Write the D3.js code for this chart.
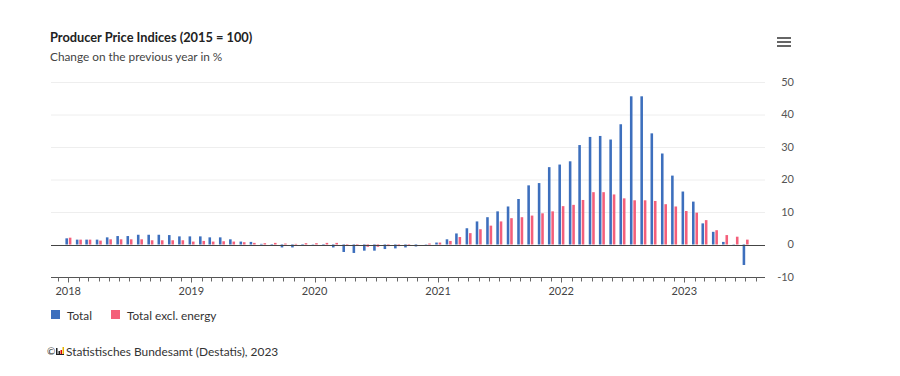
<!DOCTYPE html>
<html>
<head>
<meta charset="utf-8">
<script src="https://cdn.jsdelivr.net/npm/d3@7"></script>
<style>
  body { margin: 0; background: #fff; }
  #chart { width: 900px; height: 376px; }
  text { font-family: "Lato", "Open Sans", sans-serif; }
</style>
</head>
<body>
<div id="chart"></div>
<script>
// monthly categories, Jan 2018 .. Jul 2023
const months = [
  "2018-01","2018-02","2018-03","2018-04","2018-05","2018-06","2018-07","2018-08","2018-09","2018-10","2018-11","2018-12",
  "2019-01","2019-02","2019-03","2019-04","2019-05","2019-06","2019-07","2019-08","2019-09","2019-10","2019-11","2019-12",
  "2020-01","2020-02","2020-03","2020-04","2020-05","2020-06","2020-07","2020-08","2020-09","2020-10","2020-11","2020-12",
  "2021-01","2021-02","2021-03","2021-04","2021-05","2021-06","2021-07","2021-08","2021-09","2021-10","2021-11","2021-12",
  "2022-01","2022-02","2022-03","2022-04","2022-05","2022-06","2022-07","2022-08","2022-09","2022-10","2022-11","2022-12",
  "2023-01","2023-02","2023-03","2023-04","2023-05","2023-06","2023-07"
];

// Change on the previous year in %
const total = [
  1.9, 1.5, 1.5, 1.5, 2.2, 2.6, 2.6, 3.0, 3.0, 3.0, 2.9, 2.5,
  2.5, 2.5, 2.2, 2.2, 1.6, 0.9, 0.8, 0.2, -0.3, -0.9, -0.9, -0.3,
  0.1, -0.4, -0.9, -2.3, -2.6, -1.9, -1.9, -1.4, -1.2, -0.9, -0.6, 0.1,
  0.6, 1.6, 3.4, 5.0, 7.1, 8.4, 10.2, 11.7, 14.0, 18.2, 18.9, 23.8,
  24.6, 25.6, 30.6, 33.1, 33.4, 32.3, 37.0, 45.6, 45.6, 34.2, 28.0, 21.2,
  16.3, 13.2, 6.5, 3.9, 0.8, 0.1, -6.3
];
const totalExclEnergy = [
  2.1, 1.5, 1.5, 1.2, 1.6, 1.6, 1.6, 1.6, 1.3, 1.3, 1.3, 1.3,
  0.9, 1.1, 0.9, 1.0, 0.9, 0.7, 0.5, 0.4, 0.5, 0.3, 0.2, 0.4,
  0.4, 0.5, 0.5, -0.3, -0.4, -0.7, -0.7, -0.5, -0.5, -0.2, 0.0, 0.3,
  0.6, 1.1, 2.3, 3.5, 4.7, 5.8, 7.1, 8.1, 8.4, 8.9, 9.6, 10.2,
  11.8, 12.2, 13.7, 16.1, 16.1, 15.4, 14.2, 13.6, 13.6, 13.4, 12.4, 11.7,
  10.3, 9.8, 7.5, 4.4, 2.9, 2.4, 1.5
];

const seriesNames = ["Total", "Total excl. energy"];
const seriesColors = ["#3d6fbd", "#f45f7a"];
const yTicks = [-10, 0, 10, 20, 30, 40, 50];
const yearTicks = ["2018", "2019", "2020", "2021", "2022", "2023"];

const width = 900;
const height = 376;
const marginTop = 82;
const marginRight = 135;
const marginBottom = 99;
const marginLeft = 51;

const parseMonth = d3.timeParse("%Y-%m");
const data = months.map((m, i) => ({ date: parseMonth(m), values: [total[i], totalExclEnergy[i]] }));

const svg = d3.select("#chart")
  .append("svg")
  .attr("width", width)
  .attr("height", height);

// x: time axis with a bit of padding either side
const x = d3.scaleTime()
  .domain([new Date(2017, 10, 11), new Date(2023, 7, 28)])
  .range([marginLeft, width - marginRight]);

const y = d3.scaleLinear()
  .domain([-10, 50])
  .range([height - marginBottom, marginTop]);

// offset of the two bars inside one month
const inner = d3.scaleBand()
  .domain([0, 1])
  .range([-2.8, 3.2])
  .paddingInner(0.25);

// gridlines
svg.append("g")
  .selectAll("line")
  .data(yTicks.filter(d => d !== -10 && d !== 0))
  .join("line")
  .attr("x1", marginLeft)
  .attr("x2", width - marginRight)
  .attr("y1", d => y(d) + 0.5)
  .attr("y2", d => y(d) + 0.5)
  .attr("stroke", "#eeeeee");

// y labels on the right
svg.append("g")
  .selectAll("text")
  .data(yTicks)
  .join("text")
  .attr("x", 794)
  .attr("y", d => y(d))
  .attr("dy", "0.35em")
  .attr("text-anchor", "end")
  .attr("font-size", "11px")
  .attr("fill", "#555")
  .text(d => d);

// bars
const groups = svg.append("g")
  .selectAll("g")
  .data(data)
  .join("g")
  .attr("transform", d => `translate(${x(d.date)},0)`);

groups.selectAll("rect")
  .data(d => d.values)
  .join("rect")
  .attr("x", (v, i) => inner(i))
  .attr("width", inner.bandwidth())
  .attr("y", v => y(Math.max(0, v)))
  .attr("height", v => Math.abs(y(v) - y(0)))
  .attr("fill", (v, i) => seriesColors[i]);

// zero line
svg.append("line")
  .attr("x1", marginLeft)
  .attr("x2", width - marginRight)
  .attr("y1", Math.round(y(0)) + 0.5)
  .attr("y2", Math.round(y(0)) + 0.5)
  .attr("stroke", "#444");

// x axis: month ticks, year labels
const gx = svg.append("g")
  .attr("transform", `translate(0,${Math.round(y(-10)) + 0.5})`);

gx.append("line")
  .attr("x1", marginLeft)
  .attr("x2", width - marginRight)
  .attr("stroke", "#555");

gx.selectAll(".mtick")
  .data(x.ticks(d3.timeMonth.every(1)))
  .join("line")
  .attr("class", "mtick")
  .attr("x1", d => Math.round(x(d)) + 0.5)
  .attr("x2", d => Math.round(x(d)) + 0.5)
  .attr("y1", 0)
  .attr("y2", d => d.getMonth() === 0 ? 5 : 4)
  .attr("stroke", "#666");

gx.selectAll(".ylabel")
  .data(yearTicks)
  .join("text")
  .attr("class", "ylabel")
  .attr("x", d => x(parseMonth(d + "-01")))
  .attr("y", 17)
  .attr("text-anchor", "middle")
  .attr("font-size", "11px")
  .attr("fill", "#444")
  .text(d => d);

// title
svg.append("text")
  .attr("x", 50)
  .attr("y", 42)
  .attr("font-size", "12.8px")
  .attr("font-weight", "bold")
  .attr("fill", "#222")
  .text("Producer Price Indices (2015 = 100)");

svg.append("text")
  .attr("x", 50)
  .attr("y", 61)
  .attr("font-size", "11.8px")
  .attr("fill", "#444")
  .text("Change on the previous year in %");

// menu icon
svg.append("g")
  .selectAll("rect")
  .data([0, 1, 2])
  .join("rect")
  .attr("x", 777)
  .attr("y", d => 37 + d * 4)
  .attr("width", 14)
  .attr("height", 2)
  .attr("fill", "#666");

// legend
const legend = svg.append("g")
  .selectAll("g")
  .data(seriesNames)
  .join("g")
  .attr("transform", (d, i) => `translate(${i === 0 ? 51 : 111},310)`);

legend.append("rect")
  .attr("width", 9)
  .attr("height", 9)
  .attr("fill", (d, i) => seriesColors[i]);

legend.append("text")
  .attr("x", 16)
  .attr("y", 9.5)
  .attr("font-size", "11.8px")
  .attr("fill", "#333")
  .text(d => d);

// credits
svg.append("text")
  .attr("x", 47)
  .attr("y", 355)
  .attr("font-size", "10px")
  .attr("fill", "#333")
  .text("©");

const logo = svg.append("g").attr("transform", "translate(56,347)");
logo.append("rect").attr("x", 0).attr("y", 1).attr("width", 1.5).attr("height", 7).attr("fill", "#222");
logo.append("rect").attr("x", 2.5).attr("y", 4).attr("width", 1.5).attr("height", 4).attr("fill", "#222");
logo.append("rect").attr("x", 4.5).attr("y", 3).attr("width", 1.5).attr("height", 5).attr("fill", "#d00");
logo.append("rect").attr("x", 6.5).attr("y", 0).attr("width", 1.5).attr("height", 8).attr("fill", "#e8b500");
logo.append("rect").attr("x", 0).attr("y", 7).attr("width", 8).attr("height", 1).attr("fill", "#222");

svg.append("text")
  .attr("x", 66)
  .attr("y", 356)
  .attr("font-size", "11.9px")
  .attr("fill", "#333")
  .text("Statistisches Bundesamt (Destatis), 2023");
</script>
</body>
</html>
